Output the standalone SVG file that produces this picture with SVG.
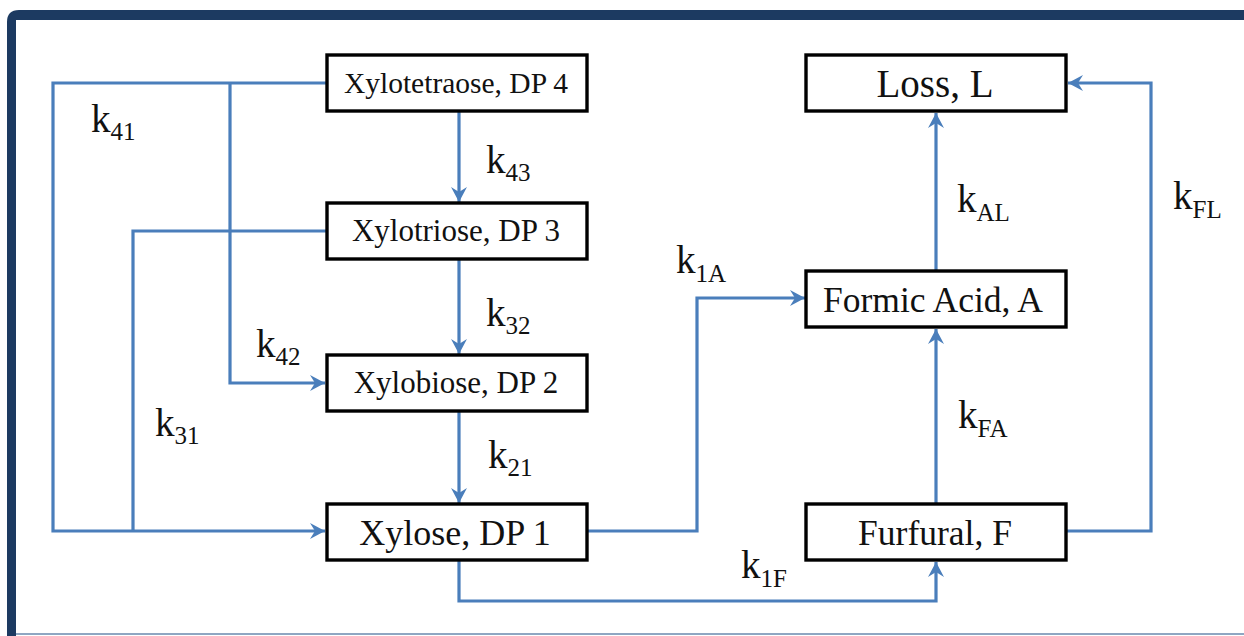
<svg xmlns="http://www.w3.org/2000/svg" width="1244" height="636" viewBox="0 0 1244 636">
<style>
.node rect{fill:#fff;stroke:#000;stroke-width:3.4}
.node text{fill:#111;text-anchor:middle}
.lbl{fill:#111;font-size:39px}
.lbl tspan.s{font-size:25px}
.conn path{fill:none;stroke:#4a7ebb;stroke-width:3.2;stroke-linejoin:miter}
</style>
<defs>
<marker id="ah" markerUnits="userSpaceOnUse" markerWidth="18" markerHeight="18" refX="15" refY="8" orient="auto">
<path d="M0,0 L15,8 L0,16 L5,8 z" fill="#4a7ebb"/>
</marker>
</defs>
<rect x="0" y="0" width="1244" height="636" fill="#fff"/>
<path d="M7,636 V22 Q7,10 19,10 H1244 V20 H16 V636 Z" fill="#1c3a61"/>
<line x1="16" y1="634" x2="1244" y2="634" stroke="#8ea6c2" stroke-width="2"/>
<g id="connectors" class="conn">
<path d="M327,83 H53 V531 H325" marker-end="url(#ah)"/>
<path d="M327,231 H133 V531"/>
<path d="M230,83 V383 H325" marker-end="url(#ah)"/>
<path d="M459,111 V202" marker-end="url(#ah)"/>
<path d="M459,259 V354" marker-end="url(#ah)"/>
<path d="M459,411 V503" marker-end="url(#ah)"/>
<path d="M587,531 H697 V298 H805" marker-end="url(#ah)"/>
<path d="M459,560 V601 H936 V562" marker-end="url(#ah)"/>
<path d="M936,504 V329" marker-end="url(#ah)"/>
<path d="M936,271 V113" marker-end="url(#ah)"/>
<path d="M1066,531 H1151 V83 H1068" marker-end="url(#ah)"/>
</g>
<g font-family="'Liberation Serif', 'Times New Roman', serif">
<g id="n4" class="node"><rect x="327" y="55" width="260" height="56"/><text x="456" y="93" font-size="29.5">Xylotetraose, DP 4</text></g>
<g id="n3" class="node"><rect x="327" y="203" width="260" height="56"/><text x="456" y="241" font-size="31">Xylotriose, DP 3</text></g>
<g id="n2" class="node"><rect x="327" y="355" width="260" height="56"/><text x="456" y="393" font-size="31">Xylobiose, DP 2</text></g>
<g id="n1" class="node"><rect x="327" y="504" width="260" height="56"/><text x="455" y="545" font-size="36">Xylose, DP 1</text></g>
<g id="nL" class="node"><rect x="806" y="55" width="260" height="56"/><text x="935" y="97" font-size="39">Loss,  L</text></g>
<g id="nA" class="node"><rect x="806" y="271" width="260" height="56"/><text x="933" y="312" font-size="35.5">Formic Acid, A</text></g>
<g id="nF" class="node"><rect x="806" y="504" width="260" height="56"/><text x="935" y="545" font-size="35.5">Furfural, F</text></g>
<g id="labels">
<text class="lbl" x="91" y="132">k<tspan class="s" dy="8">41</tspan></text>
<text class="lbl" x="486" y="173">k<tspan class="s" dy="8">43</tspan></text>
<text class="lbl" x="486" y="326">k<tspan class="s" dy="8">32</tspan></text>
<text class="lbl" x="256" y="357">k<tspan class="s" dy="8">42</tspan></text>
<text class="lbl" x="155" y="436">k<tspan class="s" dy="8">31</tspan></text>
<text class="lbl" x="488" y="468">k<tspan class="s" dy="8">21</tspan></text>
<text class="lbl" x="676" y="273">k<tspan class="s" dy="9">1A</tspan></text>
<text class="lbl" x="957" y="212">k<tspan class="s" dy="9">AL</tspan></text>
<text class="lbl" x="1173" y="209">k<tspan class="s" dy="9">FL</tspan></text>
<text class="lbl" x="958" y="428">k<tspan class="s" dy="9">FA</tspan></text>
<text class="lbl" x="741" y="578">k<tspan class="s" dy="9">1F</tspan></text>
</g>
</g>
</svg>
